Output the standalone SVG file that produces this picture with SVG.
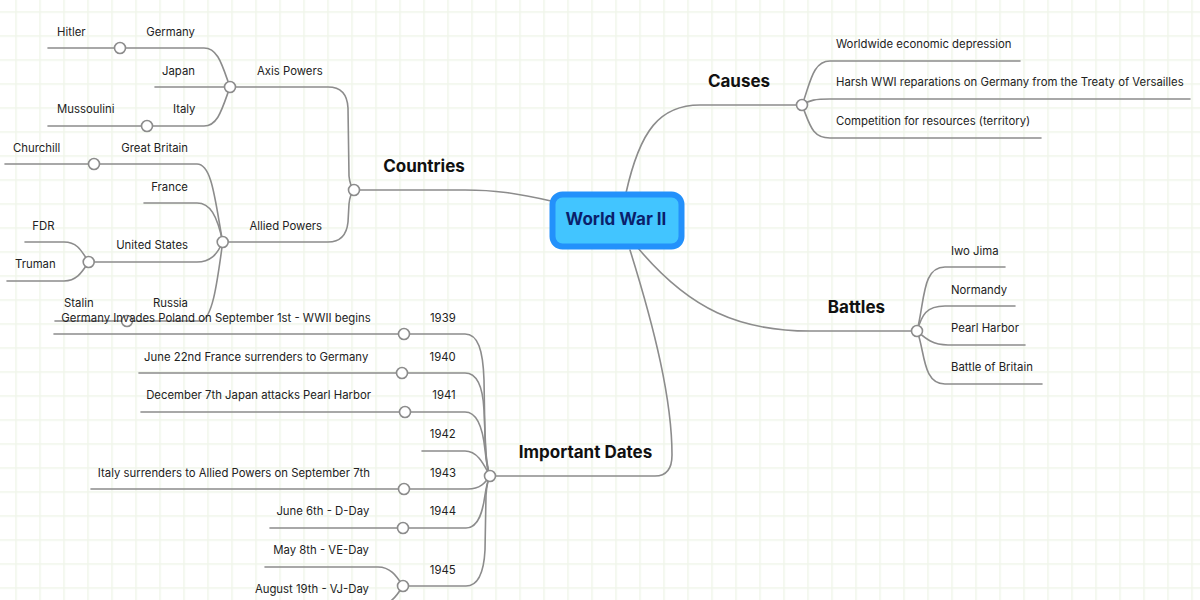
<svg xmlns="http://www.w3.org/2000/svg" width="1200" height="600" viewBox="0 0 1200 600">
<style>
.c{fill:none;stroke:#8c8c8c;stroke-width:1.6;stroke-linecap:round}
.j{fill:#fff;stroke:#8c8c8c;stroke-width:1.6}
.t{font-family:Inter,"Noto Sans","Liberation Sans",sans-serif;font-size:11.35px;fill:#222}
.e{text-anchor:end}
.h{font-family:Inter,"Noto Sans","Liberation Sans",sans-serif;font-size:17px;font-weight:700;fill:#111;text-anchor:middle}
</style>
<defs>
<pattern id="grid" patternUnits="userSpaceOnUse" x="15.25" y="11.25" width="24" height="24">
<rect x="0" y="0" width="24" height="1.5" fill="#f0f5ea"/>
<rect x="0" y="0" width="1.5" height="24" fill="#f0f5ea"/>
</pattern>
</defs>
<rect width="1200" height="600" fill="#fff"/>
<rect width="1200" height="600" fill="url(#grid)"/>
<g id="connectors">
<path class="c" d="M551,201 C515,193 495,190 465,190 L354,190"/>
<path class="c" d="M230,87 L328,87 Q347,87 348,108 L349,176 Q350,186 354,190"/>
<path class="c" d="M354,190 Q350,194 349,204 L348,222 Q346,242 328,242 L222.7,242"/>
<path class="c" d="M120,48 L204,48 C218,48 222,65 230,87"/>
<path class="c" d="M48,48 L120,48"/>
<path class="c" d="M155,87 L230,87"/>
<path class="c" d="M147,126 L204,126 C218,126 222,109 230,87"/>
<path class="c" d="M48,126 L147,126"/>
<path class="c" d="M94,164 L197,164 C212,164 215,200 222.7,242"/>
<path class="c" d="M5,164 L94,164"/>
<path class="c" d="M144,203 L197,203 C210,203 217,215 222.7,242"/>
<path class="c" d="M88.7,262 L197,262 C210,262 217,255 222.7,242"/>
<path class="c" d="M25,242 L64,242 C77,242 81,250 88.7,262"/>
<path class="c" d="M7,281 L64,281 C77,281 82,272 88.7,262"/>
<path class="c" d="M127,321 L200,321 C212,321 217,285 222.7,242"/>
<path class="c" d="M55,321 L127,321"/>
<path class="c" d="M626,193 C640,130 660,105 700,105 L802,105"/>
<path class="c" d="M802,105 C810,85 812,61 830,61 L1020,61"/>
<path class="c" d="M802,105 C810,100 815,99 830,99 L1190,99"/>
<path class="c" d="M802,105 C810,125 812,138 830,138 L1041,138"/>
<path class="c" d="M638,248 C690,310 740,331 810,331 L917,331"/>
<path class="c" d="M917,331 C925,300 922,267 945,267 L1005,267"/>
<path class="c" d="M917,331 C922,315 926,306 945,306 L1015,306"/>
<path class="c" d="M917,331 C925,338 932,345 948,345 L1025,345"/>
<path class="c" d="M917,331 C925,350 922,384 945,384 L1042,384"/>
<path class="c" d="M630,250 C655,330 672,400 672,455 Q672,476 655,476 L490,476"/>
<path class="c" d="M404,334 L465,334 C478,334 483,350 484,380 L485,440 C486,460 488,470 490,476"/>
<path class="c" d="M402,373 L465,373 C478,373 483,390 484,410 L486,455 Q487,470 490,476"/>
<path class="c" d="M405,412 L465,412 C478,412 483,430 485,450 Q487,468 490,476"/>
<path class="c" d="M422,451 L465,451 C478,451 484,465 490,476"/>
<path class="c" d="M404,489 L468,489 C480,489 485,483 490,476"/>
<path class="c" d="M403,528 L466,528 C479,528 483,510 485,495 Q487,482 490,476"/>
<path class="c" d="M403,586 L466,586 C479,586 484,570 485,550 L486,495 Q487,482 490,476"/>
<path class="c" d="M265,567 L378,567 C390,567 396,575 403,586"/>
<path class="c" d="M403,586 C396,597 390,605 378,605 L250,605"/>
<path class="c" d="M54,334 L404,334"/>
<path class="c" d="M139,373 L402,373"/>
<path class="c" d="M141,412 L405,412"/>
<path class="c" d="M91,489 L404,489"/>
<path class="c" d="M270,528 L403,528"/>
</g>
<g id="world-war-ii">
<rect x="552.5" y="194.5" width="129" height="52" rx="10" fill="#42c5ff" stroke="#2391fb" stroke-width="6"/>
<text x="616" y="225" class="h" style="fill:#0b1f6b">World War II</text>
</g>
<g id="countries"><circle class="j" cx="354" cy="190" r="5.5"/><text class="h" x="424" y="172">Countries</text></g>
<g id="axis-powers"><circle class="j" cx="230" cy="87" r="5.5"/><text class="t" x="257" y="74.5">Axis Powers</text></g>
<g id="germany"><circle class="j" cx="120" cy="48" r="5.5"/><text class="t e" x="195" y="36">Germany</text></g>
<g id="hitler"><text class="t" x="57" y="36">Hitler</text></g>
<g id="japan"><text class="t e" x="195" y="74.5">Japan</text></g>
<g id="italy"><circle class="j" cx="147" cy="126" r="5.5"/><text class="t e" x="195.5" y="113">Italy</text></g>
<g id="mussoulini"><text class="t" x="57" y="113">Mussoulini</text></g>
<g id="allied-powers"><circle class="j" cx="222.7" cy="242" r="5.5"/><text class="t" x="249.5" y="229.5">Allied Powers</text></g>
<g id="great-britain"><circle class="j" cx="94" cy="164" r="5.5"/><text class="t e" x="188" y="152">Great Britain</text></g>
<g id="churchill"><text class="t" x="13" y="152">Churchill</text></g>
<g id="france"><text class="t e" x="188" y="190.5">France</text></g>
<g id="united-states"><circle class="j" cx="88.7" cy="262" r="5.5"/><text class="t e" x="188" y="248.7">United States</text></g>
<g id="fdr"><text class="t" x="32.3" y="229.5">FDR</text></g>
<g id="truman"><text class="t" x="15" y="268">Truman</text></g>
<g id="russia"><circle class="j" cx="127" cy="321" r="5.5"/><text class="t e" x="188" y="306.7">Russia</text></g>
<g id="stalin"><text class="t" x="64" y="306.7">Stalin</text></g>
<g id="causes"><circle class="j" cx="802" cy="105" r="5.5"/><text class="h" x="739" y="87.3">Causes</text></g>
<g id="cause-1"><text class="t" x="836" y="47.5">Worldwide economic depression</text></g>
<g id="cause-2"><text class="t" x="836" y="86">Harsh WWI reparations on Germany from the Treaty of Versailles</text></g>
<g id="cause-3"><text class="t" x="836" y="125">Competition for resources (territory)</text></g>
<g id="battles"><circle class="j" cx="917" cy="331" r="5.5"/><text class="h" x="856.5" y="313.3">Battles</text></g>
<g id="iwo-jima"><text class="t" x="951" y="255">Iwo Jima</text></g>
<g id="normandy"><text class="t" x="951" y="294">Normandy</text></g>
<g id="pearl-harbor"><text class="t" x="951" y="332.3">Pearl Harbor</text></g>
<g id="battle-of-britain"><text class="t" x="951" y="371.3">Battle of Britain</text></g>
<g id="important-dates"><circle class="j" cx="490" cy="476" r="5.5"/><text class="h" x="585.5" y="457.7">Important Dates</text></g>
<g id="y1939"><circle class="j" cx="404" cy="334" r="5.5"/><text class="t e" x="455.7" y="321.7">1939</text></g>
<g id="d1939"><text class="t e" x="370.7" y="321.7">Germany Invades Poland on September 1st - WWII begins</text></g>
<g id="y1940"><circle class="j" cx="402" cy="373" r="5.5"/><text class="t e" x="455.7" y="360.7">1940</text></g>
<g id="d1940"><text class="t e" x="368.3" y="360.7">June 22nd France surrenders to Germany</text></g>
<g id="y1941"><circle class="j" cx="405" cy="412" r="5.5"/><text class="t e" x="455.7" y="399.3">1941</text></g>
<g id="d1941"><text class="t e" x="371" y="399.3">December 7th Japan attacks Pearl Harbor</text></g>
<g id="y1942"><text class="t e" x="455.7" y="438.3">1942</text></g>
<g id="y1943"><circle class="j" cx="404" cy="489" r="5.5"/><text class="t e" x="456" y="476.7">1943</text></g>
<g id="d1943"><text class="t e" x="370" y="476.7">Italy surrenders to Allied Powers on September 7th</text></g>
<g id="y1944"><circle class="j" cx="403" cy="528" r="5.5"/><text class="t e" x="456" y="515.3">1944</text></g>
<g id="d1944"><text class="t e" x="369.3" y="515.3">June 6th - D-Day</text></g>
<g id="y1945"><circle class="j" cx="403" cy="586" r="5.5"/><text class="t e" x="455.7" y="574">1945</text></g>
<g id="d1945a"><text class="t e" x="369" y="554.3">May 8th - VE-Day</text></g>
<g id="d1945b"><text class="t e" x="369" y="592.7">August 19th - VJ-Day</text></g>
</svg>
